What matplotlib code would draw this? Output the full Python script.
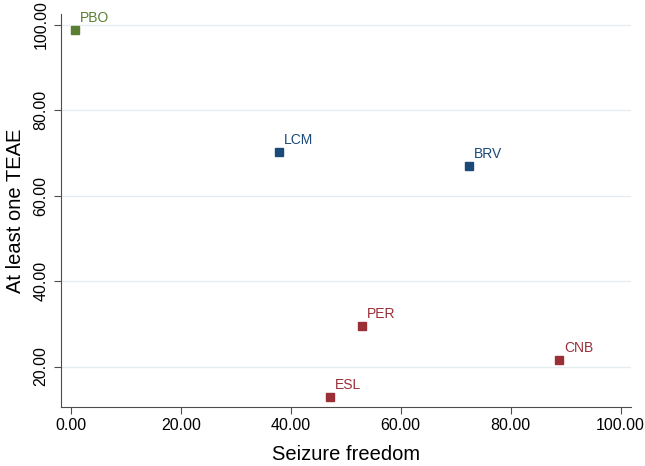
import matplotlib.pyplot as plt

plt.rcParams['font.family'] = ['Liberation Sans', 'DejaVu Sans']

# Data: seizure freedom vs at least one TEAE
drugs = ['PBO', 'LCM', 'BRV', 'PER', 'CNB', 'ESL']
seizure_freedom = [0.7, 37.8, 72.5, 53.0, 88.8, 47.2]
teae = [98.7, 70.2, 67.0, 29.5, 21.6, 12.8]
groups = ['green', 'blue', 'blue', 'red', 'red', 'red']

colors = {'green': '#5a7f32', 'blue': '#1b4a79', 'red': '#9b2f38'}
xticks = [0, 20, 40, 60, 80, 100]
yticks = [20, 40, 60, 80, 100]

fig = plt.figure(figsize=(6.45, 4.66), dpi=100)
ax = fig.add_axes([0.0938, 0.1273, 0.8845, 0.8427])

for name, x, y, g in zip(drugs, seizure_freedom, teae, groups):
    ax.plot(x, y, marker='s', markersize=6, color=colors[g], linestyle='none')
    ax.annotate(name, (x, y), xytext=(3.5, 3.5), textcoords='offset points',
                color=colors[g], fontsize=10, ha='left', va='bottom')

ax.set_xlim(-1.9, 101.9)
ax.set_ylim(10.6, 102.5)
ax.set_xticks(xticks)
ax.set_yticks(yticks)
ax.set_xticklabels(['%.2f' % t for t in xticks], fontsize=11.5)
ax.set_yticklabels(['%.2f' % t for t in yticks], fontsize=11.5, rotation=90, va='center')

ax.grid(axis='y', color='#e6edf1', linewidth=1)
ax.set_axisbelow(True)
for side in ['top', 'right']:
    ax.spines[side].set_visible(False)
for side in ['left', 'bottom']:
    ax.spines[side].set_color('#4d4d4d')
ax.tick_params(color='#4d4d4d', length=5)

ax.set_xlabel('Seizure freedom', fontsize=14.5, labelpad=8)
ax.set_ylabel('At least one TEAE', fontsize=14.5, labelpad=6)

plt.savefig('out.png')
